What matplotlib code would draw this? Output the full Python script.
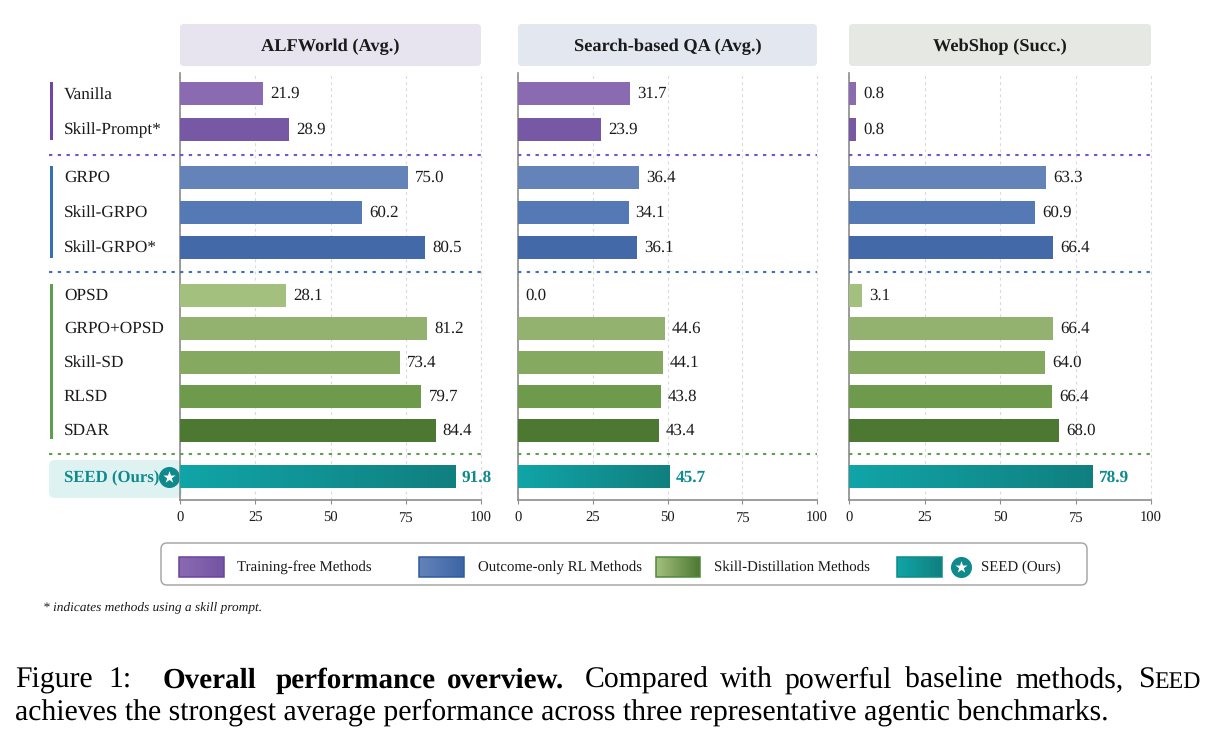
import numpy as np
import matplotlib
matplotlib.use('Agg')
import matplotlib.pyplot as plt
from matplotlib.colors import LinearSegmentedColormap
from matplotlib.patches import FancyBboxPatch, Rectangle

plt.rcParams['font.family'] = ['Liberation Serif', 'DejaVu Serif']
plt.rcParams['text.hinting'] = 'no_hinting'

# Data
methods = ['Vanilla', 'Skill-Prompt*', 'GRPO', 'Skill-GRPO', 'Skill-GRPO*', 'OPSD',
           'GRPO+OPSD', 'Skill-SD', 'RLSD', 'SDAR', 'SEED (Ours)']
panel_titles = ['ALFWorld (Avg.)', 'Search-based QA (Avg.)', 'WebShop (Succ.)']
x_ticks = [0, 25, 50, 75, 100]

# printed labels
alf_labels = [21.9, 28.9, 75.0, 60.2, 80.5, 28.1, 81.2, 73.4, 79.7, 84.4, 91.8]
qa_labels = [31.7, 23.9, 36.4, 34.1, 36.1, 0.0, 44.6, 44.1, 43.8, 43.4, 45.7]
web_labels = [0.8, 0.8, 63.3, 60.9, 66.4, 3.1, 66.4, 64.0, 66.4, 68.0, 78.9]

# bar lengths as read against the axis (they differ from the printed labels)
alf_bars = [27.6, 36.3, 75.8, 60.6, 81.5, 35.3, 82.2, 73.2, 80.2, 84.9, 91.6]
qa_bars = [37.4, 27.8, 40.5, 37.0, 39.8, 0.0, 49.0, 48.5, 47.8, 47.0, 50.8]
web_bars = [2.3, 2.3, 65.2, 61.6, 67.5, 4.3, 67.5, 64.9, 67.2, 69.5, 80.5]

legend_labels = ['Training-free Methods', 'Outcome-only RL Methods',
                 'Skill-Distillation Methods', 'SEED (Ours)']

# Style
W, H = 1218, 743
row_y = [93, 129, 177, 212, 247, 295, 328, 362, 396, 430, 477]
bar_h = 23
bar_colors = ['#8a6bb1', '#7758a5', '#6383b9', '#5579b5', '#4369a8', '#a4c07e',
              '#93b26f', '#85a960', '#6e9a4c', '#4d7832']
seed_cmap = LinearSegmentedColormap.from_list('seed', ['#11a5a7', '#107f7f'])
panels = [(180, 481, '#e7e4f0', alf_bars, alf_labels),
          (518, 817, '#e2e7f0', qa_bars, qa_labels),
          (849, 1151, '#e6e9e3', web_bars, web_labels)]
seps = [(154.5, '#7a55c0'), (271.5, '#3d74b8'), (453.5, '#5fa050')]
sep_style = (0, (1.6, 2.6))
teal = '#0f8a8c'
dark = '#1a1a1a'

fig = plt.figure(figsize=(W / 100, H / 100), dpi=100)
bg = fig.add_axes([0, 0, 1, 1])
bg.set_xlim(0, W)
bg.set_ylim(H, 0)
bg.axis('off')


def round_box(x0, y0, x1, y1, r, **kw):
    bg.add_patch(FancyBboxPatch((x0 + r, y0 + r), x1 - x0 - 2 * r, y1 - y0 - 2 * r,
                                boxstyle=f'round,pad={r},rounding_size={r}', **kw))


def gradient(ax, x0, x1, y0, y1, cmap, zorder=3):
    grad = np.linspace(0, 1, 256).reshape(1, -1)
    ax.imshow(grad, extent=(x0, x1, y1, y0), cmap=cmap, aspect='auto',
              zorder=zorder, interpolation='bilinear')


# Left side: group strips, method labels, SEED highlight
round_box(49, 460, 182, 498, 6, fc='#dff2f2', ec='none', zorder=0)
for y0, y1, c in [(82, 140, '#6f46a8'), (166, 258, '#3572b0'), (284, 439, '#5f9e4e')]:
    bg.add_patch(Rectangle((50, y0), 3, y1 - y0, fc=c, ec='none'))
for name, y in zip(methods[:-1], row_y[:-1]):
    # Vanilla sits about a pixel high otherwise
    bg.text(64, y + (6.5 if name == 'Vanilla' else 5), name, fontsize=12.4, color=dark,
            va='baseline', ha='left')
bg.text(64, row_y[-1] + 5, methods[-1], fontsize=12.1, color=teal, va='baseline', ha='left',
        fontweight='bold')

# Panels
for title, (x0, x1, head, bars, labels) in zip(panel_titles, panels):
    round_box(x0, 24, x1, 66, 4, fc=head, ec='none')
    bg.text((x0 + x1) / 2, 51, title, fontsize=13.2, fontweight='bold', color=dark,
            ha='center', va='baseline')

    ax = fig.add_axes([x0 / W, 1 - 500 / H, (x1 - x0) / W, (500 - 73) / H])
    ax.patch.set_alpha(0)
    for s in ['top', 'right']:
        ax.spines[s].set_visible(False)
    for s in ['left', 'bottom']:
        ax.spines[s].set_color('#8c8c8c')
        ax.spines[s].set_linewidth(1.2)
    ax.set_xticks(x_ticks)
    ax.set_yticks([])
    ax.tick_params(axis='x', labelsize=10.5, length=3, width=0.8, color='#8c8c8c',
                   labelcolor=dark, pad=5)
    ax.grid(axis='x', color='#d9d9d9', linestyle=(0, (2.5, 3)), linewidth=0.8, zorder=0)
    for line in ax.get_xgridlines():
        line.set_clip_on(False)
    ax.set_axisbelow(True)

    ax.barh(row_y[:-1], bars[:-1], height=bar_h, color=bar_colors, zorder=3)
    gradient(ax, 0, bars[-1], row_y[-1] - bar_h / 2, row_y[-1] + bar_h / 2, seed_cmap)
    ax.set_xlim(0, 100)
    ax.set_ylim(500, 73)

    px = 100 / (x1 - x0)
    for b, lab, y in zip(bars[:-1], labels[:-1], row_y[:-1]):
        ax.text(b + 7 * px, y + 5, f'{lab:.1f}', fontsize=12.2, color=dark, va='baseline',
                ha='left')
    ax.text(bars[-1] + 6 * px, row_y[-1] + 5, f'{labels[-1]:.1f}', fontsize=12.4, color=teal,
            fontweight='bold', va='baseline', ha='left')

    # Dotted group separators
    for y, c in seps:
        ax.plot([0, 100], [y, y], color=c, linestyle=sep_style, linewidth=1.5,
                zorder=4, clip_on=False)

    # the separators of the first panel run out to the labels
    if x0 == 180:
        for y, c in seps:
            bg.plot([49, 180], [y, y], color=c, linestyle=sep_style, linewidth=1.5)

# SEED star badge
bg.scatter([169], [477], s=230, color=teal, linewidths=0, zorder=6)
bg.scatter([169], [477], s=85, marker='*', color='white', linewidths=0, zorder=7)

# Legend
round_box(161, 543, 1087, 585, 6, fc='white', ec='#a8a8a8', lw=1.1)
legend_items = [
    (179, 224, ['#8a6bb1', '#7454a3'], '#6a42a0', 237),
    (419, 464, ['#6383b9', '#3d65a5'], '#2f5a9c', 478),
    (656, 700, ['#a4c07e', '#4d7832'], '#4f8a3a', 714),
    (897, 942, ['#11a5a7', '#107f7f'], '#0f8a8c', 981),
]
for (x0, x1, cols, edge, tx), lab in zip(legend_items, legend_labels):
    gradient(bg, x0, x1, 557, 577, LinearSegmentedColormap.from_list('g', cols))
    bg.add_patch(Rectangle((x0, 557), x1 - x0, 20, fc='none', ec=edge, lw=1.1, zorder=4))
    bg.text(tx, 571, lab, fontsize=10.7, color=dark, va='baseline', ha='left')
bg.scatter([961], [567], s=230, color=teal, linewidths=0, zorder=6)
bg.scatter([961], [567], s=85, marker='*', color='white', linewidths=0, zorder=7)
bg.set_xlim(0, W)
bg.set_ylim(H, 0)

# Footnote
bg.text(43, 610, '* indicates methods using a skill prompt.', fontsize=9.6, style='italic',
        color=dark, va='baseline', ha='left')

# Caption, word by word since the first line is justified
cap = 21.45
for word, x, weight, size in [('Figure', 15, 'normal', cap), ('1:', 108, 'normal', cap),
                              ('Overall', 163, 'bold', 21), ('performance', 276, 'bold', 21),
                              ('overview.', 447, 'bold', 21), ('Compared', 585, 'normal', cap),
                              ('with', 720, 'normal', cap), ('powerful', 785, 'normal', cap),
                              ('baseline', 905, 'normal', cap), ('methods,', 1015, 'normal', cap),
                              ('S', 1138, 'normal', cap)]:
    bg.text(x, 688, word, fontsize=size, fontweight=weight, color='black', va='baseline',
            ha='left')
bg.text(1154, 688, 'EED', fontsize=cap * 0.8, color='black', va='baseline', ha='left')
bg.text(15, 719.5, 'achieves the strongest average performance across three representative '
        'agentic benchmarks.', fontsize=cap, color='black', va='baseline', ha='left')

fig.savefig('out.png', dpi=100, facecolor='white')
